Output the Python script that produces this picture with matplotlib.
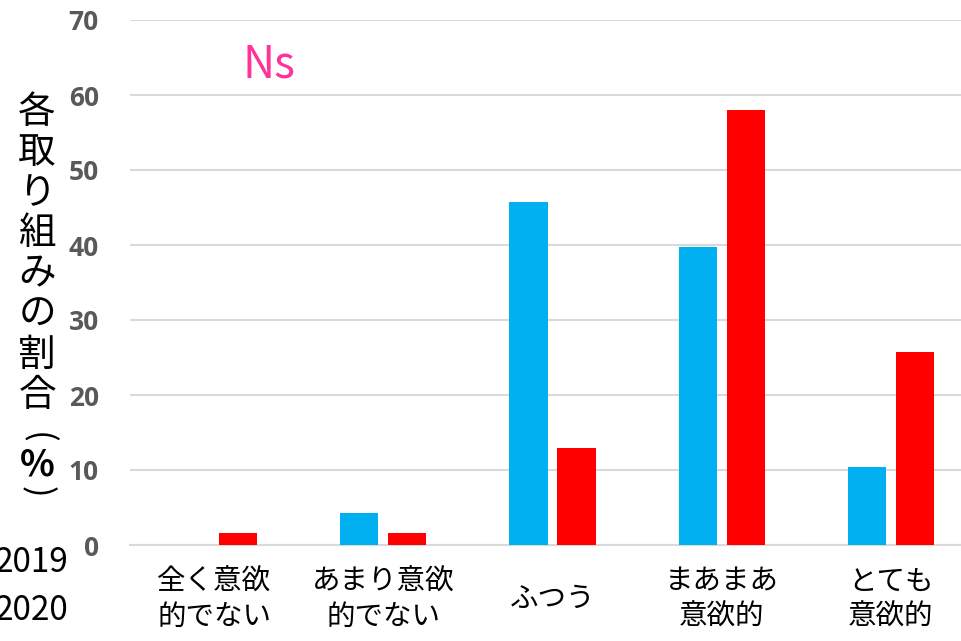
import numpy as np
import matplotlib.pyplot as plt

plt.rcParams['font.family'] = ['Noto Sans CJK JP', 'DejaVu Sans']

categories = ['全く意欲\n的でない', 'あまり意欲\n的でない', 'ふつう', 'まあまあ\n意欲的', 'とても\n意欲的']
vals_2019 = [0, 4.3, 45.7, 39.7, 10.4]
vals_2020 = [1.6, 1.6, 12.9, 58.0, 25.7]
yticks = [0, 10, 20, 30, 40, 50, 60, 70]

fig = plt.figure(figsize=(9.61, 6.41), dpi=100)
ax = fig.add_axes([129.5 / 961, 96 / 641, 846 / 961, 525 / 641])

x = np.arange(len(categories))
w = 0.225
ax.bar(x - 0.142, vals_2019, w, color='#00B0F0', zorder=3)
ax.bar(x + 0.142, vals_2020, w, color='#FF0000', zorder=3)

ax.set_xlim(-0.5, len(categories) - 0.5)
ax.set_ylim(0, 70)
ax.set_yticks(yticks, labels=[str(v) for v in yticks], fontsize=19,
              fontweight='bold', color='#595959', family='Open Sans')
ax.yaxis.grid(True, color='#D9D9D9', lw=1.5, zorder=0)
for s in ['top', 'right', 'left']:
    ax.spines[s].set_visible(False)
ax.spines['bottom'].set_color('#D9D9D9')
ax.spines['bottom'].set_linewidth(1.5)
ax.tick_params(axis='y', length=0, pad=22)

ax.set_xticks(x)
ax.set_xticklabels(categories, fontsize=20.5, linespacing=1.2)
ax.tick_params(axis='x', length=0, pad=39)
for lab in ax.get_xticklabels():
    lab.set_va('center')

# vertical stacked y label
fig.text(37 / 961, 1 - 254 / 641, '\n'.join('各取り組みの割合'), fontsize=27,
         ha='center', va='center', linespacing=1.05)
fig.text(37 / 961, 1 - 438 / 641, '(', fontsize=25, rotation=-90,
         rotation_mode='anchor', ha='center', va='center')
fig.text(37 / 961, 1 - 465 / 641, '%', fontsize=26, fontweight='bold',
         ha='center', va='center')
fig.text(37 / 961, 1 - 492 / 641, ')', fontsize=25, rotation=-90,
         rotation_mode='anchor', ha='center', va='center')

fig.text(269 / 961, 1 - 64 / 641, 'Ns', fontsize=32, color='#FF3399',
         ha='center', va='center')

# legend texts (cut off at the left edge, as in the reference)
fig.text(68 / 961, 1 - 563 / 641, '2019', fontsize=24, ha='right', va='center')
fig.text(68 / 961, 1 - 611 / 641, '2020', fontsize=24, ha='right', va='center')

fig.savefig('out.png', dpi=100)
